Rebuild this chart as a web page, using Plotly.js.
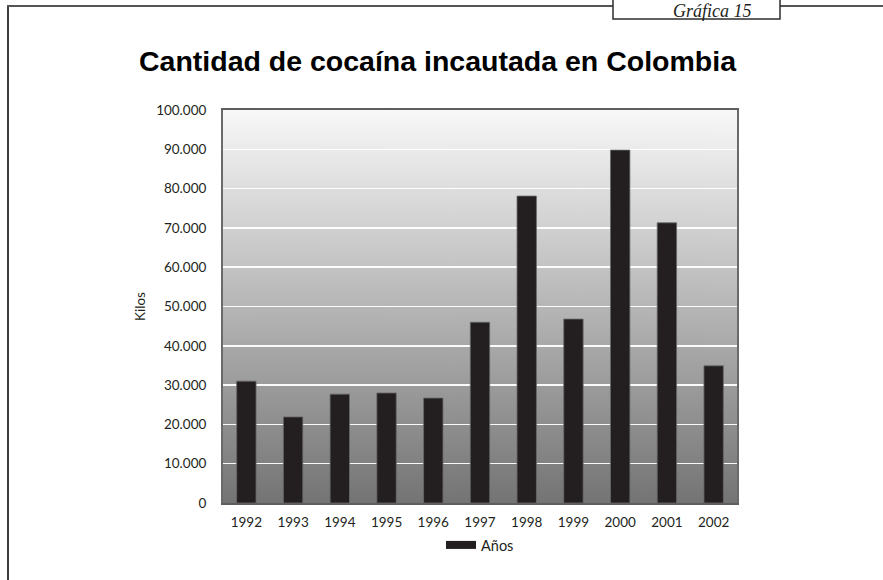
<!DOCTYPE html>
<html>
<head>
<meta charset="utf-8">
<script src="https://cdn.plot.ly/plotly-3.0.1.min.js"></script>
<style>
  html, body { margin: 0; padding: 0; background: #ffffff; }
  #chart { width: 883px; height: 580px; }
</style>
</head>
<body>
<div id="chart"></div>
<script>
// Cocaine seized in Colombia per year (kilos)
const years = ['1992', '1993', '1994', '1995', '1996', '1997', '1998', '1999', '2000', '2001', '2002'];
const kilos = [31000, 21900, 27700, 28000, 26700, 46000, 78100, 46800, 89800, 71300, 34900];

const chartTitle = 'Cantidad de cocaína incautada en Colombia';
const yAxisTitle = 'Kilos';
const seriesName = 'Años';
const tabLabel = 'Gráfica 15';

// Page and plot-box geometry in pixels
const W = 883, H = 580;
const L = 223, R = 737, T = 110, B = 503;
const px = x => (x - L) / (R - L);
const py = y => (B - y) / (B - T);

// Vertical light-to-dark backdrop for the plot area
function gradientImage() {
  const c = document.createElement('canvas');
  c.width = 8; c.height = 400;
  const g = c.getContext('2d');
  const grad = g.createLinearGradient(0, 0, 0, 400);
  grad.addColorStop(0, '#f8f8f8');
  grad.addColorStop(1, '#747474');
  g.fillStyle = grad;
  g.fillRect(0, 0, 8, 400);
  return c.toDataURL('image/png');
}

const tickFont = { family: 'Lato, "Open Sans", sans-serif', size: 13.5, color: '#231f20' };

const bars = {
  type: 'bar',
  x: years,
  y: kilos,
  name: seriesName,
  showlegend: false,
  marker: { color: '#231f20', line: { color: '#6a6a6a', width: 0.8 } },
  hoverinfo: 'x+y'
};

// Legend entry drawn as a wide, short swatch
const legendKey = {
  type: 'scatter',
  mode: 'lines',
  x: [null],
  y: [null],
  name: seriesName,
  line: { color: '#231f20', width: 8 },
  hoverinfo: 'skip'
};

const layout = {
  width: W,
  height: H,
  margin: { l: L, r: W - R, t: T, b: H - B, pad: 0 },
  paper_bgcolor: '#ffffff',
  plot_bgcolor: 'rgba(0,0,0,0)',
  separators: ',.',
  bargap: 0.585,
  title: {
    text: chartTitle,
    font: { family: '"Liberation Sans", Arial, sans-serif', size: 28.5, color: '#000000', weight: 900 },
    xref: 'container', x: 437.5 / W, xanchor: 'center',
    yref: 'container', y: 1 - 61 / H, yanchor: 'middle'
  },
  xaxis: {
    type: 'category',
    tickfont: tickFont,
    ticks: '',
    ticklabelstandoff: 6,
    showgrid: false,
    showline: true,
    linecolor: '#5e5e5e',
    linewidth: 2,
    mirror: true,
    fixedrange: true
  },
  yaxis: {
    range: [0, 100000],
    dtick: 10000,
    tickformat: ',d',
    tickfont: tickFont,
    ticks: '',
    ticklabelstandoff: 12,
    showgrid: true,
    gridcolor: 'rgba(255,255,255,0.95)',
    gridwidth: 1.5,
    zeroline: false,
    showline: true,
    linecolor: '#6a6a6a',
    linewidth: 2,
    mirror: true,
    title: { text: yAxisTitle, font: tickFont, standoff: 7 },
    fixedrange: true
  },
  legend: {
    orientation: 'h',
    x: 0.5, xanchor: 'center',
    y: py(545), yanchor: 'middle',
    font: { family: 'Lato, "Open Sans", sans-serif', size: 14.5, color: '#231f20' },
    bgcolor: 'rgba(0,0,0,0)',
    itemwidth: 30
  },
  images: [{
    source: gradientImage(),
    xref: 'paper', yref: 'paper',
    x: 0, y: 1, sizex: 1, sizey: 1,
    xanchor: 'left', yanchor: 'top',
    sizing: 'stretch',
    layer: 'below'
  }],
  shapes: [
    // outer frame: left edge and top edge
    { type: 'line', xref: 'paper', yref: 'paper', x0: px(8), x1: px(8), y0: py(6), y1: py(582),
      line: { color: '#3c3c3c', width: 2 } },
    { type: 'line', xref: 'paper', yref: 'paper', x0: px(7), x1: px(885), y0: py(6), y1: py(6),
      line: { color: '#555555', width: 2 } },
    // caption tab on the top edge
    { type: 'rect', xref: 'paper', yref: 'paper', x0: px(613), x1: px(780), y0: py(-3), y1: py(19),
      fillcolor: '#ffffff', line: { color: '#2e2e2e', width: 1.5 } }
  ],
  annotations: [{
    text: '<i>' + tabLabel + '</i>',
    xref: 'paper', yref: 'paper',
    x: px(712), y: py(11.5), xanchor: 'center', yanchor: 'middle',
    showarrow: false,
    font: { family: '"Liberation Serif", "DejaVu Serif", serif', size: 18, color: '#231f20' }
  }]
};

Plotly.newPlot('chart', [bars, legendKey], layout, { displayModeBar: false, staticPlot: true });
</script>
</body>
</html>
